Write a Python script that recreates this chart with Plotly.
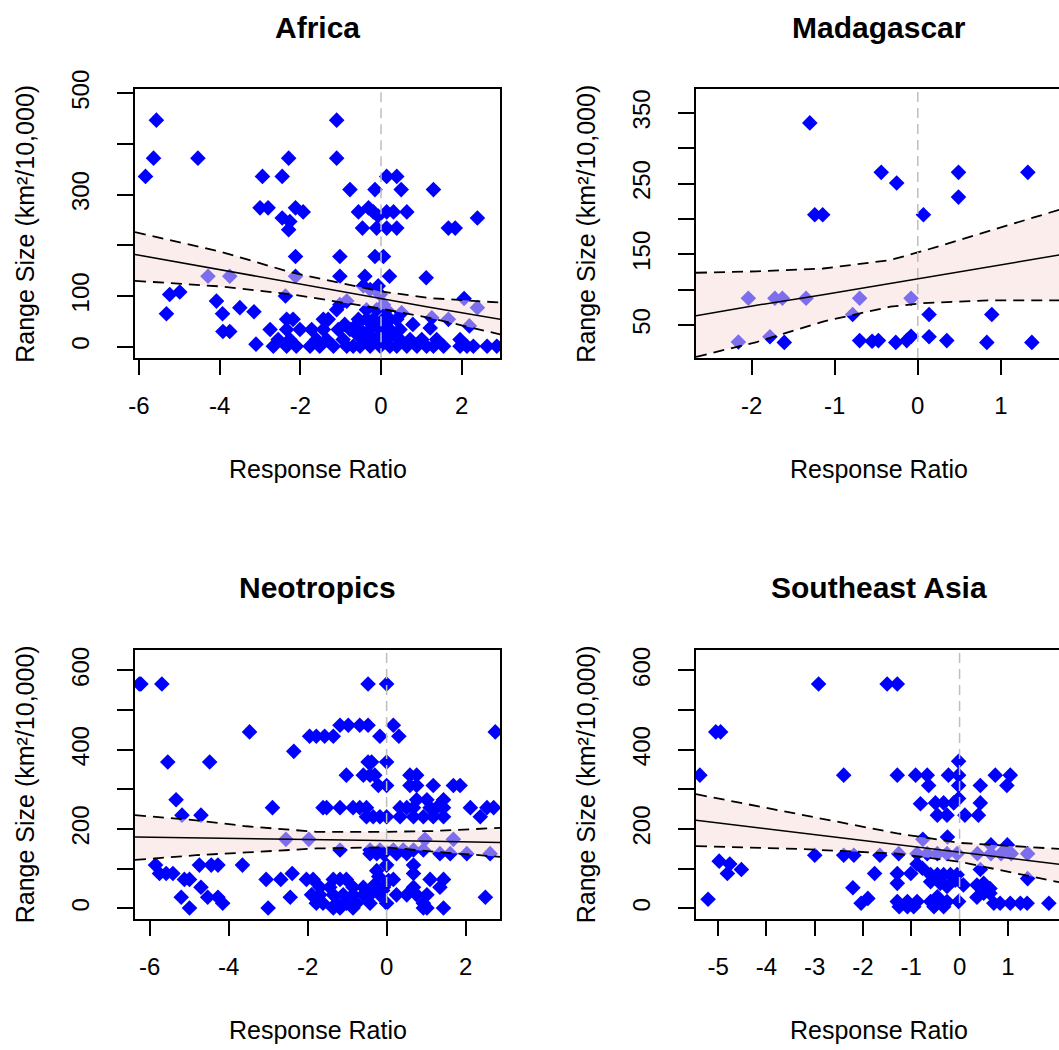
import plotly.graph_objects as go

W, H = 1059, 1050

# ---------------- data ----------------
africa_x = [
    -5.57, -5.64, -5.84, -4.54, -1.10, -1.10, -2.29, -2.94, -2.45, -3.00,
    -2.80, -2.12, -1.93, -2.45, -2.26, -2.29, -0.77, -0.15, 0.14, 0.39,
    0.50, 1.30, -0.56, -0.31, -0.19, -0.07, 0.14, 0.31, 0.64, -0.46,
    -0.11, 0.14, 0.39, 1.67, 1.84, 2.39, -2.12, -1.02, -0.15, 0.06,
    -2.12, -1.02, -0.40, 0.21, 1.12, -4.29, -3.75, -5.24, -4.99, -5.32,
    -4.08, -3.93, -3.50, -3.15, -3.92, -3.75, -3.10, -2.37, -0.44, -0.27,
    -0.07, -0.85, -0.02, 0.51, 1.26, 1.67, 2.06, 2.39, 2.19, 0.79,
    1.22,
    -2.67, -2.34, -2.10, -1.76, -1.52, -1.18, -0.85, -0.69, -0.52, -0.27,
    -0.02, 0.22, 0.39, 0.64, 0.89, 1.13, 1.30, 1.55, 1.96, 2.13, 2.29, 2.63, 2.87,
    -2.55, -2.26, -1.60, -1.35, -0.94, -0.44, -0.19, 0.06, 0.47, 0.72, 1.01, 1.38, 1.96,
    -2.75, -2.34, -2.01, -1.72, -1.43, -1.06, -0.77, -0.52, -0.27, -0.02, 0.22, 0.47,
    -2.34, -2.18, -1.43, -1.31, -0.56, -0.36, -0.19, 0.06, 0.22, 0.39,
    -1.10, -0.36, -0.11, 0.14, -1.02, 0.06,
    -0.60, -0.30, 0.00, 0.30, -0.90, -0.60, -0.10, 0.10,
]
africa_y = [
    447, 372, 336, 372, 447, 372, 372, 336, 336, 274,
    274, 274, 266, 254, 247, 231, 310, 310, 336, 336,
    310, 310, 266, 274, 266, 258, 266, 266, 266, 234,
    234, 234, 234, 234, 234, 254, 178, 178, 178, 178,
    139, 139, 139, 139, 136, 139, 139, 103, 108, 65,
    90, 65, 77, 69, 30, 30, 5, 100, 120, 113,
    120, 90, 103, 67, 57, 54, 95, 77, 41, 44,
    37,
    1, 1, 1, 1, 1, 1, 1, 1, 1, 1,
    1, 1, 1, 1, 1, 1, 1, 1, 1, 1, 1, 1, 1,
    14, 14, 14, 14, 14, 14, 14, 14, 14, 14, 14, 14, 14,
    34, 34, 34, 34, 34, 34, 34, 34, 34, 34, 34, 34,
    54, 54, 54, 54, 54, 54, 54, 54, 54, 54,
    73, 73, 73, 73, 83, 83,
    24, 24, 24, 24, 44, 44, 44, 44,
]
africa_fit_x = [-6.10, -4.00, -2.20, 0.00, 1.20, 2.96]
africa_fit = [182, 152, 126, 95, 78, 54]
africa_upr = [226, 188, 146, 109, 96, 87]
africa_lwr = [130, 119, 103, 75, 57, 24]

mad_x = [-1.30, -1.24, -1.145, -0.44, -0.254, 0.49, 0.49, 1.325, 0.068,
         -2.04, -1.72, -1.63, -1.345, -0.70, -0.081,
         -2.16, -1.78, -1.607, -0.784, -0.70, -0.55, -0.474, -0.265, -0.133,
         -0.081, 0.136, 0.136, 0.349, 0.831, 0.891, 1.373]
mad_y = [336, 206, 206, 266, 251, 266, 231, 266, 206,
         88, 88, 88, 88, 88, 88,
         26, 33.5, 25.5, 65, 28, 27, 28, 25.5, 28,
         34, 65, 33.5, 28, 25.5, 65, 25.5]
mad_fit_x = [-2.67, -1.94, -1.14, -0.33, 0.07, 0.87, 1.70]
mad_fit = [63, 78, 93, 109, 117, 133, 149]
mad_upr = [124, 126, 130, 142, 155, 184, 213]
mad_lwr = [5, 26, 55, 76, 81, 85, 85]

neo_x = [
    -6.26, -6.22, -5.69, -0.47, 0.00, -3.47, 2.75, -2.35, -5.54, -4.48, -0.47, -0.38, 0.00,
    -1.18, -0.97, -0.68, -0.47, 0.17,
    -1.95, -1.78, -1.57, -1.35, -0.17, 0.31,
    -1.02, -0.59, -0.42, -0.30, 0.59, 0.76,
    -0.21, 0.00, 0.59, 0.76, 1.18, 1.69, 1.86,
    -5.33, -5.18, -4.70, -2.89,
    -1.61, -1.52, -1.18, -0.85, -0.68, -0.51, 0.34, 0.51, 0.68, 1.10, 1.27, 1.44, 2.12, 2.54, 2.71,
    -0.51, -0.34, -0.17, 0.00, 0.34, 0.68, 0.93, 1.18, 1.44, 2.37,
    0.76, 1.02, 1.44,
    -2.55, -1.97, 0.97, 1.69,
    -1.18, -0.42, -0.17, 0.17, 0.42, 0.68, 0.93,
    -0.42, -0.25, -0.08, 0.25, 0.51, 1.35, 1.61, 2.03, 2.62,
    -5.85, -3.65, -4.44, -4.27, -4.74, 0.00, 0.68,
    -5.75, -5.58, -5.41, -2.39, 0.68,
    -5.12, -4.99, -3.05, -2.68, -2.03, -1.86, -1.35, -1.18, -1.02, 0.17, 1.10, 1.44,
    -4.70, -1.69, -1.44, -0.85, -0.59, -0.34, -0.08, 0.68, 1.35,
    -1.90, -1.69, -1.35, -1.10, -0.85, -0.59, -0.42, -0.17, 0.25, 0.51, 0.76, 1.02,
    -5.20, -4.53, -4.27, -2.44, 2.50,
    -4.15, -1.78, -1.61, -1.27, -1.02, -0.76, -0.42, 0.00, 0.93,
    -4.99, -3.00, -1.35, -1.18, -0.85, 0.93, 1.02, 1.44,
    -0.30, -0.20, -0.10, -0.25, 0.05,
]
neo_y = [
    566, 566, 566, 566, 566, 445, 445, 396, 369, 369, 369, 369, 369,
    462, 462, 462, 462, 462,
    434, 434, 434, 434, 434, 434,
    336, 336, 336, 336, 336, 336,
    310, 310, 310, 310, 310, 310, 310,
    274, 235, 235, 254,
    254, 254, 254, 254, 254, 254, 254, 254, 254, 254, 254, 254, 254, 254, 254,
    231, 231, 231, 231, 231, 231, 231, 231, 231, 231,
    274, 274, 274,
    174, 174, 174, 174,
    147, 147, 147, 147, 147, 147, 147,
    138, 138, 138, 138, 138, 138, 138, 138, 138,
    109, 109, 109, 109, 109, 109, 109,
    88, 88, 88, 88, 88,
    73, 73, 73, 73, 73, 73, 73, 73, 73, 73, 73, 73,
    53, 53, 53, 53, 53, 53, 53, 53, 53,
    34, 34, 34, 34, 34, 34, 34, 34, 34, 34, 34, 34,
    28, 28, 28, 28, 28,
    13, 13, 13, 13, 13, 13, 13, 13, 13,
    1, 1, 1, 1, 1, 1, 1, 1,
    60, 80, 45, 95, 70,
]
neo_fit_x = [-6.37, -4.82, -3.55, -1.78, 0.00, 1.18, 2.87]
neo_fit = [180, 178, 176, 174, 172, 169, 166]
neo_upr = [235, 222, 207, 193, 193, 195, 203]
neo_lwr = [122, 134, 141, 151, 154, 143, 130]

sea_x = [
    -5.38, -5.21, -5.05, -4.95, -4.98, -4.76, -4.81, -4.52,
    -2.92, -1.50, -1.29,
    -2.40, -1.29, -0.91, -0.67, -0.23, -0.02, 0.74, 1.05,
    -0.02,
    -0.64, -0.02, 0.43, 0.98,
    -0.81, -0.50, -0.33, -0.12, -0.02, 0.43,
    -0.46, -0.26, 0.11, 0.39,
    -0.25, -0.76,
    -3.00, -2.40, -2.19, -1.65, -1.26,
    -0.88, -0.67, -0.46, -0.26, -0.05, 0.37, 0.65, 0.86, 1.07, 1.41,
    0.65, 0.99,
    -1.76, -1.29, -1.01, -0.88, -0.77,
    -0.60, -0.46, -0.33, -0.19, -0.05,
    0.43, 1.41, -2.21, -1.29,
    -0.60, -0.40, -0.26, -0.09,
    0.08, 0.36, 0.50, 0.63,
    0.36, 0.50, 0.63, -2.04, -1.90,
    -1.29, -1.08, -0.88, -0.60, -0.46, -0.26, -0.02,
    -1.25, -1.08, -0.95, -0.53, -0.33,
    0.71, 0.84, 1.05, 1.26, 1.40, 1.85,
    -0.46,
]
sea_y = [
    336, 23, 445, 445, 119, 112, 88, 98,
    566, 566, 566,
    336, 336, 336, 336, 336, 336, 336, 336,
    371,
    310, 310, 310, 310,
    264, 266, 266, 266, 277, 266,
    235, 235, 235, 235,
    180, 174,
    134, 134, 134, 134, 138,
    138, 138, 138, 138, 138, 138, 138, 138, 138, 138,
    160, 160,
    88, 88, 88, 112, 101,
    85, 85, 85, 85, 85,
    98, 75, 52, 63,
    67, 63, 55, 71,
    59, 59, 63, 50,
    28, 38, 38, 13, 25,
    17, 17, 17, 17, 17, 17, 17,
    4, 4, 4, 4, 4,
    13, 13, 13, 13, 13, 13,
    29,
]
sea_fit_x = [-5.46, -3.36, -1.29, 0.02, 2.06]
sea_fit = [222, 191, 162, 142, 111]
sea_upr = [288, 239, 189, 165, 150]
sea_lwr = [157, 150, 138, 117, 66]

titles = ["Africa", "Madagascar", "Neotropics", "Southeast Asia"]
x_label = "Response Ratio"
y_label = "Range Size (km²/10,000)"

# ---------------- layout geometry (pixels) ----------------
panels = [
    dict(title=titles[0], x=africa_x, y=africa_y, fx=africa_fit_x, fit=africa_fit,
         upr=africa_upr, lwr=africa_lwr, box=(135, 500, 89.3, 358.3),
         xr=[-6.10, 2.95], yr=[-22.9, 507.9],
         xt=[-6, -4, -2, 0, 2], yt=[0, 100, 200, 300, 400, 500],
         ytt=["0", "100", "", "300", "", "500"], right=False),
    dict(title=titles[1], x=mad_x, y=mad_y, fx=mad_fit_x, fit=mad_fit,
         upr=mad_upr, lwr=mad_lwr, box=(696, 1059, 89.3, 358.0),
         xr=[-2.67, 1.70], yr=[3.4, 383.5],
         xt=[-2, -1, 0, 1], yt=[50, 100, 150, 200, 250, 300, 350],
         ytt=["50", "", "150", "", "250", "", "350"], right=True),
    dict(title=titles[2], x=neo_x, y=neo_y, fx=neo_fit_x, fit=neo_fit,
         upr=neo_upr, lwr=neo_lwr, box=(135, 500, 649.5, 919),
         xr=[-6.37, 2.87], yr=[-26.9, 652.9],
         xt=[-6, -4, -2, 0, 2], yt=[0, 100, 200, 300, 400, 500, 600],
         ytt=["0", "", "200", "", "400", "", "600"], right=False),
    dict(title=titles[3], x=sea_x, y=sea_y, fx=sea_fit_x, fit=sea_fit,
         upr=sea_upr, lwr=sea_lwr, box=(696, 1059, 649.5, 919),
         xr=[-5.46, 2.06], yr=[-26.9, 652.9],
         xt=[-5, -4, -3, -2, -1, 0, 1], yt=[0, 100, 200, 300, 400, 500, 600],
         ytt=["0", "", "200", "", "400", "", "600"], right=True),
]

FONT = "Liberation Sans, Arial, sans-serif"
BLUE = "#0000FF"
BAND = "rgba(250,220,220,0.5)"

fig = go.Figure()
layout = dict(width=W, height=H, margin=dict(l=0, r=0, t=0, b=0),
              paper_bgcolor="white", plot_bgcolor="white", showlegend=False,
              font=dict(family=FONT, color="black"))
annotations = []
shapes = []

for i, p in enumerate(panels):
    n = "" if i == 0 else str(i + 1)
    xa, ya = "x" + n, "y" + n
    left, right, top, bottom = p["box"]
    # points
    fig.add_trace(go.Scatter(x=p["x"], y=p["y"], mode="markers", xaxis=xa, yaxis=ya,
                             marker=dict(symbol="diamond", size=12, color=BLUE,
                                         line=dict(width=0))))
    # confidence band (drawn over the points, semi-transparent)
    fig.add_trace(go.Scatter(x=p["fx"] + p["fx"][::-1], y=p["upr"] + p["lwr"][::-1],
                             mode="lines", fill="toself", fillcolor=BAND,
                             line=dict(width=0), xaxis=xa, yaxis=ya, hoverinfo="skip"))
    fig.add_trace(go.Scatter(x=p["fx"], y=p["fit"], mode="lines", xaxis=xa, yaxis=ya,
                             line=dict(color="black", width=1.5)))
    for band in ("upr", "lwr"):
        fig.add_trace(go.Scatter(x=p["fx"], y=p[band], mode="lines", xaxis=xa, yaxis=ya,
                                 line=dict(color="black", width=1.8, dash="11px,7px")))

    xdom = [left / W, right / W]
    ydom = [1 - bottom / H, 1 - top / H]
    layout["xaxis" + n] = dict(
        domain=xdom, range=p["xr"], anchor=ya, showgrid=False, zeroline=False,
        showline=True, mirror=True, linecolor="black", linewidth=1.5,
        ticks="outside", ticklen=15, tickwidth=1.5, tickcolor="black",
        tickvals=p["xt"], ticktext=[str(v) for v in p["xt"]], ticklabelstandoff=10,
        tickfont=dict(size=24, family=FONT, color="black"), automargin=False)
    layout["yaxis" + n] = dict(
        domain=ydom, range=p["yr"], anchor=xa, showgrid=False, zeroline=False,
        showline=True, mirror=(not p["right"]), linecolor="black", linewidth=1.5,
        ticks="outside", ticklen=16, tickwidth=1.5, tickcolor="black",
        tickvals=p["yt"], ticktext=p["ytt"], tickangle=-90, ticklabelstandoff=19,
        tickfont=dict(size=24, family=FONT, color="black"), automargin=False)

    shapes.append(dict(type="line", xref=xa, yref=ya + " domain", x0=0, x1=0, y0=0, y1=1,
                       line=dict(color="#BEBEBE", width=1.5, dash="10px,6px"), layer="above"))

    cx = (left + (left + 365)) / 2
    annotations.append(dict(text="<b>" + p["title"] + "</b>", x=cx / W, y=1 - (top - 62) / H,
                            xref="paper", yref="paper", xanchor="center", yanchor="middle",
                            showarrow=False, font=dict(size=30, family=FONT, color="black")))
    annotations.append(dict(text=x_label, x=cx / W, y=1 - (bottom + 111) / H,
                            xref="paper", yref="paper", xanchor="center", yanchor="middle",
                            showarrow=False, font=dict(size=25, family=FONT, color="black")))
    annotations.append(dict(text=y_label, x=(left - 110) / W, y=1 - ((top + bottom) / 2) / H,
                            xref="paper", yref="paper", xanchor="center", yanchor="middle",
                            textangle=-90, showarrow=False,
                            font=dict(size=25, family=FONT, color="black")))

layout["annotations"] = annotations
layout["shapes"] = shapes
fig.update_layout(**layout)
fig.write_html("out.html")
